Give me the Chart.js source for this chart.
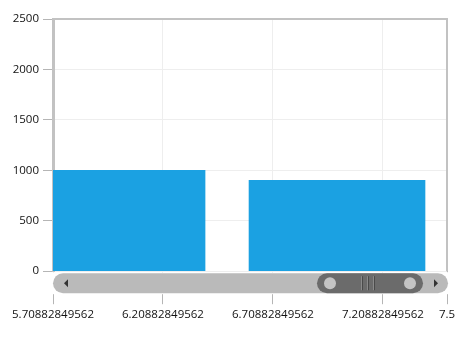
<!DOCTYPE html>
<html>
<head>
<meta charset="utf-8">
<script src="https://cdn.jsdelivr.net/npm/chart.js@4/dist/chart.umd.min.js"></script>
<style>
    html, body { margin: 0; padding: 0; background: #fff; }
    #wrap { width: 471px; height: 338px; }
</style>
</head>
<body>
<div id="wrap"><canvas id="barChart" width="471" height="338"></canvas></div>
<script>
const xValues = [6, 7];
const yValues = [1000, 900];
const xTickValues = [5.70882849562, 6.20882849562, 6.70882849562, 7.20882849562, 7.5];
const xTickLabels = ["5.70882849562", "6.20882849562", "6.70882849562", "7.20882849562", "7.5"];
const yMin = 0;
const yMax = 2500;
const yStep = 500;

const frameColor = "#c2c2c2";
const labelFont = {family: "'Segoe UI', 'Open Sans', sans-serif", size: 11.5};

// draws the top/right frame and the scroll bar that sits under the plot
const scrollBarPlugin = {
    id: "scrollBar",
    afterDraw(chart) {
        const ctx = chart.ctx;
        const area = chart.chartArea;
        ctx.save();

        ctx.strokeStyle = frameColor;
        ctx.lineWidth = 2;
        ctx.beginPath();
        ctx.moveTo(area.left, area.top);
        ctx.lineTo(area.right, area.top);
        ctx.lineTo(area.right, area.bottom);
        ctx.stroke();

        const top = area.bottom + 2;
        const h = 20;
        const left = area.left;
        const right = area.right + 1;

        ctx.fillStyle = "#ffffff";
        ctx.fillRect(left - 1, area.bottom + 1, right - left + 3, h + 2);

        ctx.fillStyle = "#bababa";
        ctx.beginPath();
        ctx.roundRect(left, top, right - left, h, h / 2);
        ctx.fill();

        // arrows
        ctx.fillStyle = "#333";
        const cy = top + h / 2;
        ctx.beginPath();
        ctx.moveTo(left + 11, cy);
        ctx.lineTo(left + 15, cy - 4);
        ctx.lineTo(left + 15, cy + 4);
        ctx.closePath();
        ctx.fill();
        ctx.beginPath();
        ctx.moveTo(right - 10, cy);
        ctx.lineTo(right - 14, cy - 4);
        ctx.lineTo(right - 14, cy + 4);
        ctx.closePath();
        ctx.fill();

        // thumb
        const tl = 317, tr = 423;
        ctx.fillStyle = "#6b6b6b";
        ctx.beginPath();
        ctx.roundRect(tl, top, tr - tl, h, h / 2);
        ctx.fill();

        ctx.fillStyle = "#c4c4c4";
        ctx.beginPath();
        ctx.arc(tl + 13, cy, 6, 0, Math.PI * 2);
        ctx.fill();
        ctx.beginPath();
        ctx.arc(tr - 13, cy, 6, 0, Math.PI * 2);
        ctx.fill();

        ctx.lineWidth = 1;
        for (const gx of [361.5, 367.5, 373.5]) {
            ctx.strokeStyle = "#8a8a8a";
            ctx.beginPath();
            ctx.moveTo(gx, top + 3);
            ctx.lineTo(gx, top + h - 3);
            ctx.stroke();
            ctx.strokeStyle = "#4a4a4a";
            ctx.beginPath();
            ctx.moveTo(gx + 1, top + 3);
            ctx.lineTo(gx + 1, top + h - 3);
            ctx.stroke();
        }

        ctx.restore();
    }
};

const data = {
    datasets: [
        {
            data: xValues.map((x, i) => ({x: x, y: yValues[i]})),
            backgroundColor: "#1ba1e2",
            borderWidth: 0,
            barThickness: "flex",
            barPercentage: 0.8,
            categoryPercentage: 1
        }
    ]
};

const config = {
    type: "bar",
    data: data,
    options: {
        animation: false,
        responsive: false,
        layout: {
            padding: {top: 19, right: 24, bottom: 12, left: 0}
        },
        plugins: {
            legend: {display: false},
            tooltip: {enabled: false}
        },
        scales: {
            x: {
                type: "linear",
                offset: false,
                min: xTickValues[0],
                max: xTickValues[xTickValues.length - 1],
                afterBuildTicks: function (scale) {
                    scale.ticks = xTickValues.map(v => ({value: v}));
                },
                ticks: {
                    autoSkip: false,
                    maxRotation: 0,
                    padding: 4,
                    color: "#111",
                    font: labelFont,
                    callback: function (value, index) {
                        return xTickLabels[index];
                    }
                },
                grid: {
                    offset: false,
                    color: "#eeeeee",
                    tickColor: "#b5b5b5",
                    tickLength: 33,
                    lineWidth: 1
                },
                border: {display: false}
            },
            y: {
                min: yMin,
                max: yMax,
                afterFit: function (scale) {
                    scale.width = 53;
                },
                ticks: {
                    stepSize: yStep,
                    padding: 4,
                    color: "#111",
                    font: labelFont,
                    callback: function (value) {
                        return String(value);
                    }
                },
                grid: {
                    color: "#eeeeee",
                    tickColor: "#b5b5b5",
                    tickLength: 10
                },
                border: {color: frameColor, width: 3}
            }
        }
    },
    plugins: [scrollBarPlugin]
};

new Chart(document.getElementById("barChart").getContext("2d"), config);
</script>
</body>
</html>
